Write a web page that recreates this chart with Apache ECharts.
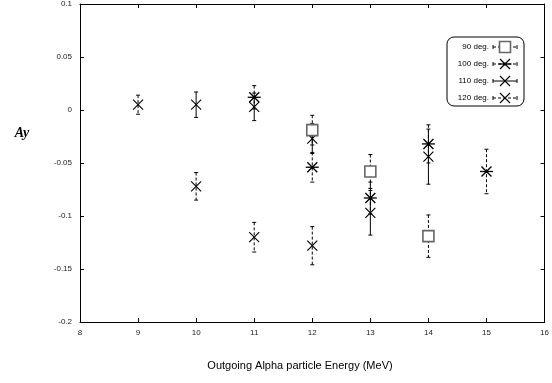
<!DOCTYPE html>
<html>
<head>
<meta charset="utf-8">
<script src="https://cdn.jsdelivr.net/npm/echarts@6/dist/echarts.min.js"></script>
<style>
  html, body { margin: 0; padding: 0; background: #fff; }
  #chart { width: 552px; height: 383px; }
</style>
</head>
<body>
<div id="chart"></div>
<script>
// Analysing power Ay vs outgoing alpha energy, four detector angles.
// Each point: [energy (MeV), Ay, error]
const series90 = [[12, -0.019, 0.014], [13, -0.058, 0.016], [14, -0.119, 0.020]];
const series100 = [[11, 0.012, 0.011], [12, -0.054, 0.014], [13, -0.083, 0.015], [14, -0.032, 0.018], [15, -0.058, 0.021]];
const series110 = [[10, 0.005, 0.012], [11, 0.003, 0.013], [12, -0.027, 0.014], [13, -0.097, 0.021], [14, -0.044, 0.026]];
const series120 = [[9, 0.005, 0.009], [10, -0.072, 0.013], [11, -0.120, 0.014], [12, -0.128, 0.018]];
const seriesNames = ['90 deg.', '100 deg.', '110 deg.', '120 deg.'];
const xTicks = [8, 9, 10, 11, 12, 13, 14, 15, 16];
const yTicks = [-0.2, -0.15, -0.1, -0.05, 0, 0.05, 0.1];

const chart = echarts.init(document.getElementById('chart'), null, { renderer: 'canvas' });

// marker shapes centred on (cx, cy)
function crossShape(cx, cy, r, color, w) {
  return [
    { type: 'line', shape: { x1: cx - r, y1: cy - r, x2: cx + r, y2: cy + r }, style: { stroke: color, lineWidth: w } },
    { type: 'line', shape: { x1: cx - r, y1: cy + r, x2: cx + r, y2: cy - r }, style: { stroke: color, lineWidth: w } }
  ];
}
function starShape(cx, cy, r, color) {
  return crossShape(cx, cy, r, color, 1.3).concat([
    { type: 'line', shape: { x1: cx - r - 1.5, y1: cy, x2: cx + r + 1.5, y2: cy }, style: { stroke: color, lineWidth: 1.3 } },
    { type: 'circle', shape: { cx: cx, cy: cy, r: 1.6 }, style: { fill: color } }
  ]);
}
function squareShape(cx, cy, r) {
  return [{ type: 'rect', shape: { x: cx - r, y: cy - r, width: 2 * r, height: 2 * r },
            style: { fill: '#fff', stroke: '#666', lineWidth: 1.6 } }];
}
function marker(kind, cx, cy) {
  if (kind === 'square') return squareShape(cx, cy, 5.5);
  if (kind === 'star') return starShape(cx, cy, 5, '#000');
  return crossShape(cx, cy, 5, '#000', 1.1);
}

function errorSeries(name, data, kind, dashed) {
  return {
    name: name,
    type: 'custom',
    xAxisIndex: 0, yAxisIndex: 0,
    data: data,
    encode: { x: 0, y: 1 },
    clip: false,
    renderItem: function (params, api) {
      const x = api.value(0), y = api.value(1), e = api.value(2);
      const c = api.coord([x, y]);
      const hi = api.coord([x, y + e]);
      const lo = api.coord([x, y - e]);
      const cap = 2;
      const dash = dashed ? [3, 2] : null;
      const children = [
        { type: 'line', shape: { x1: c[0], y1: hi[1], x2: c[0], y2: lo[1] }, style: { stroke: '#000', lineWidth: 1, lineDash: dash } },
        { type: 'line', shape: { x1: c[0] - cap, y1: hi[1], x2: c[0] + cap, y2: hi[1] }, style: { stroke: '#000', lineWidth: 1 } },
        { type: 'line', shape: { x1: c[0] - cap, y1: lo[1], x2: c[0] + cap, y2: lo[1] }, style: { stroke: '#000', lineWidth: 1 } }
      ].concat(marker(kind, c[0], c[1]));
      return { type: 'group', children: children };
    }
  };
}

// legend box with sample error-bar glyphs
const legendItems = [
  { label: seriesNames[0], kind: 'square', dashed: true },
  { label: seriesNames[1], kind: 'star', dashed: true },
  { label: seriesNames[2], kind: 'cross', dashed: false },
  { label: seriesNames[3], kind: 'cross', dashed: true }
];
const lgX = 447, lgY = 37, lgW = 77, lgH = 69, rowH = 17;
const legendGraphics = [
  { type: 'rect', shape: { x: lgX, y: lgY, width: lgW, height: lgH, r: 7 },
    style: { fill: '#fff', stroke: '#000', lineWidth: 1 }, z: 100 }
];
legendItems.forEach(function (it, i) {
  const cy = lgY + 10 + i * rowH;
  const sx = 505;
  legendGraphics.push({ type: 'text', x: 489, y: cy, z: 101,
    style: { text: it.label, fill: '#000', font: '8px "Liberation Sans", Arial, sans-serif', textAlign: 'right', textVerticalAlign: 'middle' } });
  legendGraphics.push({ type: 'line', z: 101, shape: { x1: sx - 12, y1: cy, x2: sx + 12, y2: cy },
    style: { stroke: '#000', lineWidth: 1, lineDash: it.dashed ? [3, 2] : null } });
  legendGraphics.push({ type: 'line', z: 101, shape: { x1: sx - 12, y1: cy - 2, x2: sx - 12, y2: cy + 2 }, style: { stroke: '#000', lineWidth: 1 } });
  legendGraphics.push({ type: 'line', z: 101, shape: { x1: sx + 12, y1: cy - 2, x2: sx + 12, y2: cy + 2 }, style: { stroke: '#000', lineWidth: 1 } });
  marker(it.kind, sx, cy).forEach(function (m) { m.z = 102; legendGraphics.push(m); });
});

const axisFont = { fontSize: 8, color: '#222', fontFamily: '"Liberation Sans", Arial, sans-serif' };
const lineStyle = { color: '#000', width: 1 };

chart.setOption({
  animation: false,
  backgroundColor: '#fff',
  grid: { left: 80, right: 5, top: 4, bottom: 61, show: false },
  xAxis: [
    { type: 'value', min: 8, max: 16, interval: 1, position: 'bottom',
      axisLine: { show: true, onZero: false, lineStyle: lineStyle },
      axisTick: { show: true, inside: true, length: 4, lineStyle: lineStyle },
      axisLabel: Object.assign({ margin: 7 }, axisFont),
      splitLine: { show: false } },
    { type: 'value', min: 8, max: 16, interval: 1, position: 'top',
      axisLine: { show: true, onZero: false, lineStyle: lineStyle },
      axisTick: { show: true, inside: true, length: 4, lineStyle: lineStyle },
      axisLabel: { show: false }, splitLine: { show: false } }
  ],
  yAxis: [
    { type: 'value', min: -0.2, max: 0.1, interval: 0.05, position: 'left',
      axisLine: { show: true, onZero: false, lineStyle: lineStyle },
      axisTick: { show: true, inside: true, length: 4, lineStyle: lineStyle },
      axisLabel: Object.assign({ margin: 8, formatter: function (v) { return String(+v.toFixed(2)); } }, axisFont),
      splitLine: { show: false } },
    { type: 'value', min: -0.2, max: 0.1, interval: 0.05, position: 'right',
      axisLine: { show: true, onZero: false, lineStyle: lineStyle },
      axisTick: { show: true, inside: true, length: 4, lineStyle: lineStyle },
      axisLabel: { show: false }, splitLine: { show: false } }
  ],
  series: [
    errorSeries(seriesNames[3], series120, 'cross', true),
    errorSeries(seriesNames[2], series110, 'cross', false),
    errorSeries(seriesNames[1], series100, 'star', true),
    errorSeries(seriesNames[0], series90, 'square', true)
  ],
  graphic: [
    { type: 'text', x: 300, y: 366,
      style: { text: 'Outgoing Alpha particle Energy (MeV)', fill: '#000', font: '11px "Liberation Sans", Arial, sans-serif', textAlign: 'center', textVerticalAlign: 'middle' } },
    { type: 'text', x: 22, y: 133,
      style: { text: 'Ay', fill: '#000', font: 'italic bold 14px "Liberation Serif", "DejaVu Serif", serif', textAlign: 'center', textVerticalAlign: 'middle' } }
  ].concat(legendGraphics)
});
</script>
</body>
</html>
